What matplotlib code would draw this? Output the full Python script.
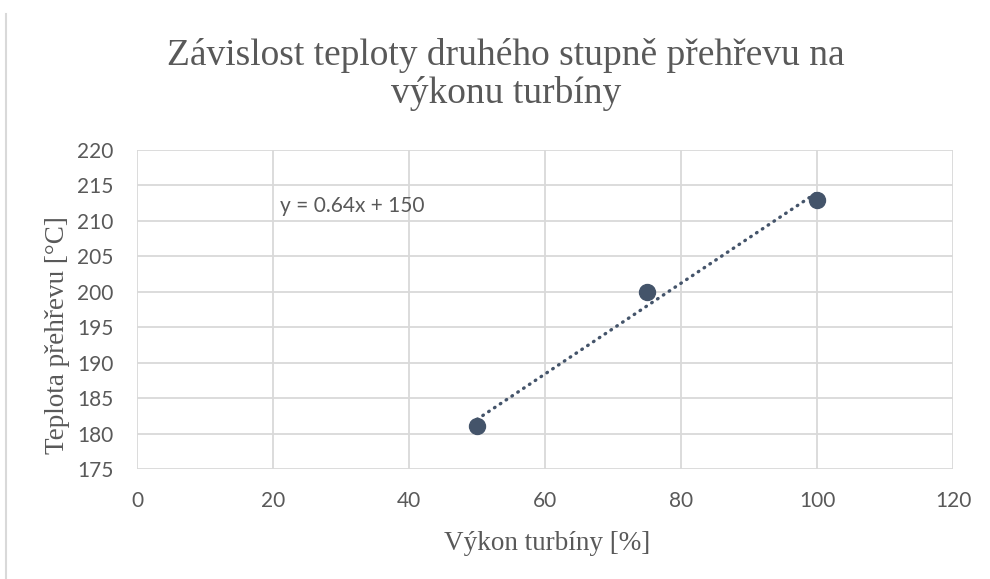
import numpy as np
import matplotlib.pyplot as plt
from matplotlib.lines import Line2D

# data
vykon = [50, 75, 100]
teplota = [181, 200, 213]
x_ticks = [0, 20, 40, 60, 80, 100, 120]
y_ticks = [175, 180, 185, 190, 195, 200, 205, 210, 215, 220]

text_col = '#595959'
grid_col = '#d9d9d9'
mark_col = '#44546a'
serif = 'Liberation Serif'
sans = 'Lato'

fig = plt.figure(figsize=(9.9, 5.79), dpi=100)
ax = fig.add_axes([0.1384, 0.19, 0.8242, 0.551])

# trend line (linear fit)
k, q = np.polyfit(vykon, teplota, 1)
xt = np.array([min(vykon), max(vykon)])
ax.plot(xt, k * xt + q, color=mark_col, lw=2.4, linestyle=(0, (0.2, 1.9)),
        dash_capstyle='round', zorder=3)
ax.plot(vykon, teplota, 'o', color=mark_col, markersize=11.5, zorder=4)

ax.text(21, 211.3, f'y = {k:.2f}x + {q:.0f}', fontsize=15, family=sans,
        color=text_col, va='baseline', ha='left')

ax.set_xlim(0, 120)
ax.set_ylim(175, 220)
ax.set_xticks(x_ticks)
ax.set_yticks(y_ticks)
ax.grid(True, color=grid_col, lw=1.3)
ax.set_axisbelow(True)
for s in ax.spines.values():
    s.set_visible(False)
ax.tick_params(length=0, labelsize=15, labelcolor=text_col)
ax.tick_params(axis='y', pad=17)
ax.tick_params(axis='x', pad=16)
for lab in ax.get_xticklabels() + ax.get_yticklabels():
    lab.set_family(sans)

# axis titles
fig.text(0.5525, 1 - 550 / 579, 'Výkon turbíny [%]', fontsize=19.5, family=serif,
         color=text_col, ha='center', va='baseline')
fig.text(57 / 990, 1 - 335 / 579, 'Teplota přehřevu [°C]', fontsize=19.5, family=serif,
         color=text_col, ha='center', va='center', rotation=90)

# chart title
fig.text(0.511, 1 - 65 / 579, 'Závislost teploty druhého stupně přehřevu na',
         ha='center', va='baseline', fontsize=27, family=serif, color=text_col)
fig.text(0.511, 1 - 103 / 579, 'výkonu turbíny',
         ha='center', va='baseline', fontsize=27, family=serif, color=text_col)

# left border fragment
fig.add_artist(Line2D([0.006, 0.006], [0.0, 0.975], color=grid_col, lw=1.5))

fig.savefig('out.png', dpi=100)
